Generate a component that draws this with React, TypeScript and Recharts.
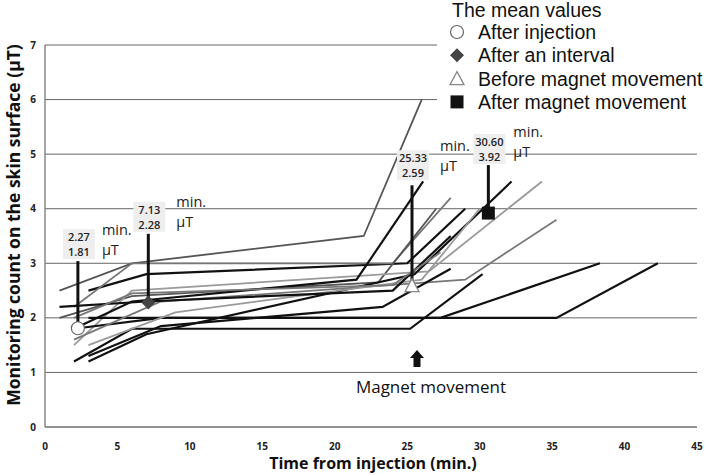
import React from "react";
import {
  ComposedChart,
  Line,
  Scatter,
  XAxis,
  YAxis,
  CartesianGrid,
  ReferenceLine,
} from "recharts";

const xTicks = [0, 5, 10, 15, 20, 25, 30, 35, 40, 45];
const yTicks = [0, 1, 2, 3, 4, 5, 6, 7];

// one row per patient: minutes after injection at the four readings
const patientTimes = [
  [1, 6, 22, 26],
  [3, 7, 25, 29],
  [2, 6, 24, 28],
  [1, 6, 23, 27],
  [2, 6, 26.5, 34.3],
  [2, 6, 25.2, 30.2],
  [3, 8, 27.3, 38.3],
  [2, 8, 35.3, 42.3],
  [3, 7, 25.5, 32.2],
  [2, 8, 29, 35.3],
  [2, 6, 21.5, 26.1],
  [3, 9, 26, 30],
  [1, 7, 24, 28],
  [2, 6, 24, 27.3],
  [3, 8, 23.3, 28],
];

// monitoring count (µT) at the same readings
const patientCounts = [
  [2.5, 3.0, 3.5, 6.0],
  [2.5, 2.8, 3.0, 4.0],
  [2.2, 3.0, 3.0, 4.2],
  [2.0, 2.4, 2.65, 4.0],
  [1.5, 2.5, 2.85, 4.5],
  [1.2, 1.8, 1.8, 2.8],
  [2.0, 2.0, 2.0, 3.0],
  [1.8, 2.0, 2.0, 3.0],
  [1.2, 1.7, 2.8, 4.5],
  [1.6, 2.3, 2.7, 3.8],
  [1.8, 2.3, 2.7, 4.5],
  [1.5, 2.1, 2.7, 4.0],
  [2.2, 2.3, 2.5, 3.5],
  [2.0, 2.45, 2.6, 3.2],
  [1.3, 1.85, 2.2, 2.9],
];

const patientShades = [
  "#555", "#111", "#777", "#555", "#9a9a9a", "#111", "#111", "#111",
  "#111", "#777", "#111", "#9a9a9a", "#111", "#777", "#111",
];

const meanTimes = [2.27, 7.13, 25.33, 30.6];
const meanCounts = [1.81, 2.28, 2.59, 3.92];
const meanNames = ["After injection", "After an interval", "Before magnet movement", "After magnet movement"];
const calloutTops = [3.04, 3.54, 4.43, 4.8];

const W = 707;
const H = 475;
const PL = 45;
const PR = 697;
const PT = 45;
const PB = 427;
const px = (x: number) => PL + (x * (PR - PL)) / 45;
const py = (y: number) => PB - (y * (PB - PT)) / 7;

const series = patientTimes.map((ts, i) => ts.map((t, j) => ({ x: t, y: patientCounts[i][j] })));

const markerShapes = ["circle", "diamond", "triangle", "square"];

function MarkerIcon({ kind, cx, cy }: { kind: string; cx: number; cy: number }) {
  if (kind === "circle")
    return <circle cx={cx} cy={cy} r={6.5} fill="#fff" stroke="#666" strokeWidth={1.2} />;
  if (kind === "diamond")
    return (
      <polygon
        points={`${cx},${cy - 7} ${cx + 7},${cy} ${cx},${cy + 7} ${cx - 7},${cy}`}
        fill="#444"
      />
    );
  if (kind === "triangle")
    return (
      <polygon
        points={`${cx},${cy - 7} ${cx + 7},${cy + 6} ${cx - 7},${cy + 6}`}
        fill="#fff"
        stroke="#888"
        strokeWidth={1.3}
      />
    );
  return <rect x={cx - 6.5} y={cy - 6.5} width={13} height={13} fill="#111" />;
}

// offsets (px) of the numbers and the "min." / "µT" units relative to each callout top
const numOffsets = [-24, -24, -27, -23];
const unitDx = [23, 27, 27, 24];
const unitDy = [-31, -32, -39, -33];

export default function App() {
  return (
    <div style={{ position: "absolute", left: 0, top: 0, width: W, height: H, background: "#fff" }}>
      <ComposedChart
        width={W}
        height={H}
        margin={{ top: PT, right: W - PR, bottom: 0, left: 0 }}
      >
        <CartesianGrid vertical={false} stroke="#666" strokeWidth={1} />
        <XAxis
          type="number"
          dataKey="x"
          domain={[0, 45]}
          ticks={xTicks}
          height={H - PB}
          axisLine={{ stroke: "#888", strokeWidth: 1.5 }}
          tickLine={false}
          tickSize={0}
          tickMargin={16}
          tick={{ fontSize: 10, fontFamily: "Open Sans", fontWeight: 700, fill: "#222" }}
          interval={0}
        />
        <YAxis
          type="number"
          dataKey="y"
          domain={[0, 7]}
          ticks={yTicks}
          width={PL}
          axisLine={{ stroke: "#888", strokeWidth: 1.5 }}
          tickLine={false}
          tickSize={0}
          tickMargin={9}
          tick={{ fontSize: 10, fontFamily: "Open Sans", fontWeight: 700, fill: "#222" }}
          interval={0}
        />
        {series.map((d, i) => (
          <Line
            key={i}
            data={d}
            dataKey="y"
            type="linear"
            stroke={patientShades[i]}
            strokeWidth={patientShades[i] === "#111" ? 2.2 : 1.8}
            dot={false}
            activeDot={false}
            isAnimationActive={false}
          />
        ))}
        {meanTimes.map((t, i) => (
          <ReferenceLine
            key={"c" + i}
            segment={[
              { x: t, y: meanCounts[i] },
              { x: t, y: calloutTops[i] },
            ]}
            stroke="#111"
            strokeWidth={3}
          />
        ))}
        {meanTimes.map((t, i) => (
          <Scatter
            key={"m" + i}
            data={[{ x: t, y: meanCounts[i] }]}
            dataKey="y"
            isAnimationActive={false}
            shape={(p: any) => <MarkerIcon kind={markerShapes[i]} cx={p.cx} cy={p.cy} />}
          />
        ))}
      </ComposedChart>

      <svg
        width={W}
        height={H}
        style={{ position: "absolute", left: 0, top: 0, pointerEvents: "none" }}
      >
        {/* callout labels */}
        {meanTimes.map((t, i) => {
          const cx = px(t) + 1;
          const top = py(calloutTops[i]);
          const n1 = top + numOffsets[i];
          return (
            <g key={"l" + i} fontFamily="Open Sans" fill="#222">
              <rect x={cx - 16} y={n1 - 8} width={32} height={30} fill="#eee" />
              <text x={cx} y={n1 + 4} fontSize={11} fontWeight={600} textAnchor="middle">
                {t.toFixed(2)}
              </text>
              <text x={cx} y={n1 + 19} fontSize={11} fontWeight={600} textAnchor="middle">
                {meanCounts[i].toFixed(2)}
              </text>
              <text x={cx + unitDx[i]} y={top + unitDy[i] + 5} fontSize={14.5} fontWeight={500}>
                min.
              </text>
              <text x={cx + unitDx[i]} y={top + unitDy[i] + 25} fontSize={14.5} fontWeight={500}>
                μT
              </text>
            </g>
          );
        })}

        {/* legend */}
        <rect x={437} y={19} width={270} height={95} fill="#fff" />
        <text x={452} y={17} fontFamily="Liberation Sans" fontSize={19.5} fill="#111">
          The mean values
        </text>
        {meanNames.map((n, i) => (
          <g key={"g" + i}>
            <MarkerIcon kind={markerShapes[i]} cx={457} cy={32 + i * 23.3} />
            <text x={478} y={39 + i * 23.3} fontFamily="Liberation Sans" fontSize={19.5} fill="#111">
              {n}
            </text>
          </g>
        ))}

        {/* magnet movement arrow */}
        <polygon points="417,350 424,358 420.5,358 420.5,367 413.5,367 413.5,358 410,358" fill="#111" />
        <text x={431} y={393} textAnchor="middle" fontFamily="Open Sans" fontSize={17} fill="#111">
          Magnet movement
        </text>

        {/* axis titles */}
        <text
          x={373}
          y={469}
          textAnchor="middle"
          fontFamily="Open Sans"
          fontWeight={700}
          fontSize={16}
          fill="#111"
        >
          Time from injection (min.)
        </text>
        <text
          transform="translate(20,225) rotate(-90)"
          textAnchor="middle"
          fontFamily="Open Sans"
          fontWeight={700}
          fontSize={17.5}
          fill="#111"
        >
          Monitoring count on the skin surface (μT)
        </text>
      </svg>
    </div>
  );
}
